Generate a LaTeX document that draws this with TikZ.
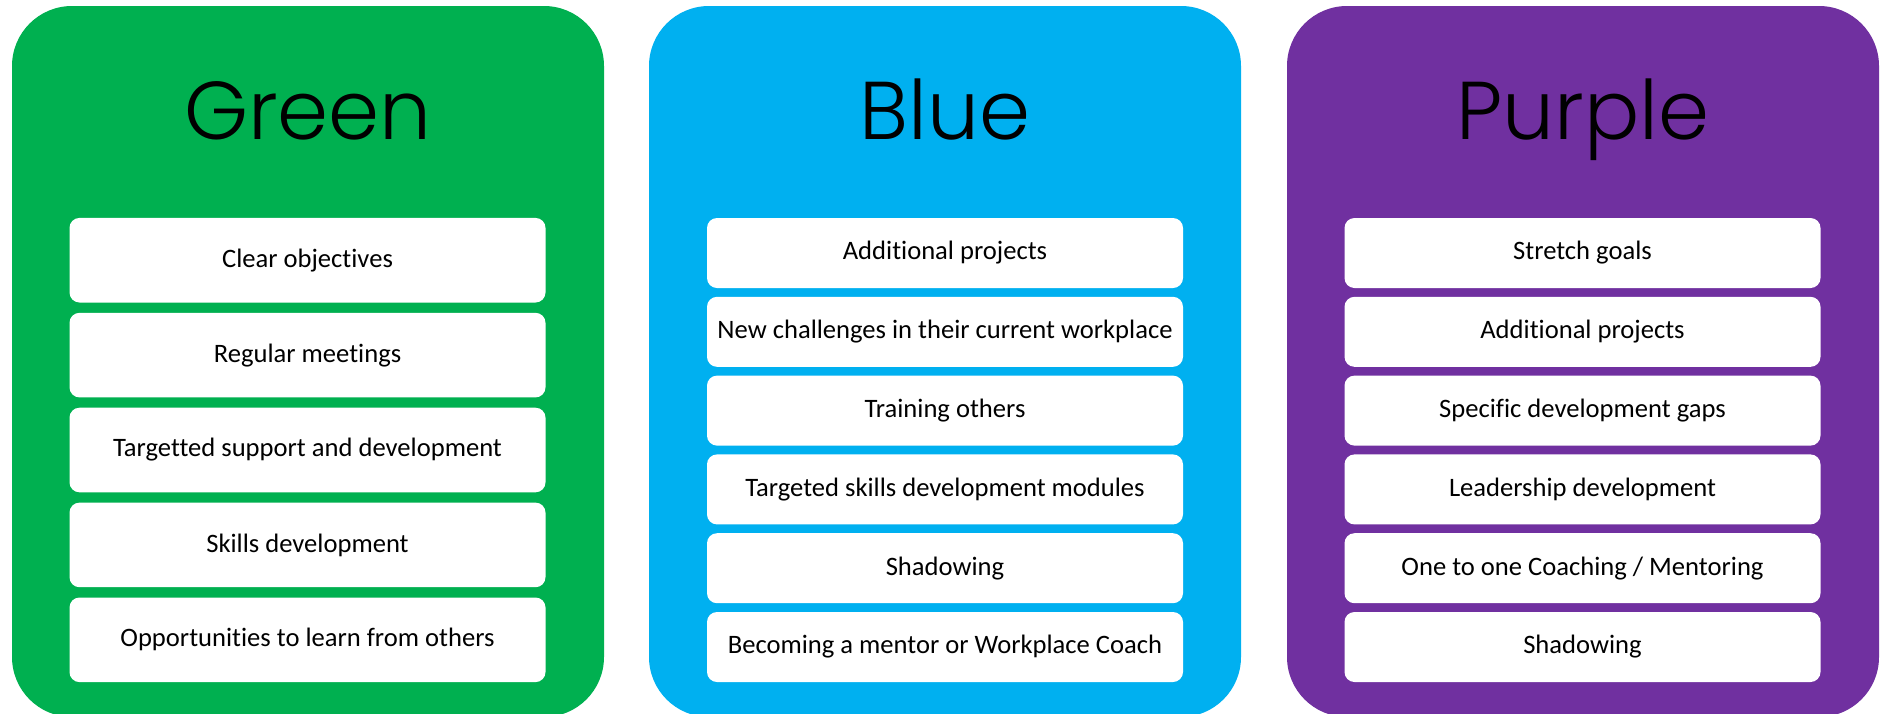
\documentclass[tikz,border=0pt]{standalone}
\usepackage{fontspec}
\setmainfont{Carlito}[Ligatures=NoCommon]
\newfontfamily\titlefont{Poppins Light}
\usepackage{tikz}
\definecolor{greenpanel}{HTML}{00B050}
\definecolor{bluepanel}{HTML}{00B0F0}
\definecolor{purplepanel}{HTML}{7030A0}
\tikzset{%
    panel/.style={rounded corners=30pt},
    paneltitle/.style={anchor=base,inner sep=0pt,font=\titlefont\fontsize{41}{41}\selectfont},
    itembox/.style={fill=white,rounded corners=5pt,inner sep=0pt,
        minimum width=238pt,minimum height=#1,font=\fontsize{13.3}{14}\selectfont},
    itembox/.default=35pt
}

\begin{document}
\begin{tikzpicture}[x=0.5pt,y=-0.5pt]
\useasboundingbox (0,0) rectangle (1881,713);
\clip (0,0) rectangle (1881,713);
	\begin{scope}
	\fill[panel,greenpanel]  (12,6) rectangle (604,717);
	\fill[panel,bluepanel]   (649,6) rectangle (1241,717);
	\fill[panel,purplepanel] (1287,6) rectangle (1879,717);
	\end{scope}
%titles
\node[paneltitle] (green) at (308,139)  {Green};
\node[paneltitle] (blue) at (945,139)   {Blue};
\node[paneltitle] (purple) at (1583,139) {Purple};
%green column
\node[itembox=42.3pt] (g1) at (307.5,260.2) {Clear objectives};
\node[itembox=42.3pt] (g2) at (307.5,355.1) {Regular meetings};
\node[itembox=42.3pt] (g3) at (307.5,450.0) {Targetted support and development};
\node[itembox=42.3pt] (g4) at (307.5,544.9) {Skills development};
\node[itembox=42.3pt] (g5) at (307.5,639.8) {Opportunities to learn from others};
%blue column
\node[itembox] (b1) at (945,253.0) {Additional projects};
\node[itembox] (b2) at (945,331.8) {New challenges in their current workplace};
\node[itembox] (b3) at (945,410.6) {Training others};
\node[itembox] (b4) at (945,489.4) {Targeted skills development modules};
\node[itembox] (b5) at (945,568.2) {Shadowing};
\node[itembox] (b6) at (945,647.0) {Becoming a mentor or Workplace Coach};
%purple column
\node[itembox] (p1) at (1582.5,253.0) {Stretch goals};
\node[itembox] (p2) at (1582.5,331.8) {Additional projects};
\node[itembox] (p3) at (1582.5,410.6) {Specific development gaps};
\node[itembox] (p4) at (1582.5,489.4) {Leadership development};
\node[itembox] (p5) at (1582.5,568.2) {One to one Coaching / Mentoring};
\node[itembox] (p6) at (1582.5,647.0) {Shadowing};
\end{tikzpicture}
\end{document}
